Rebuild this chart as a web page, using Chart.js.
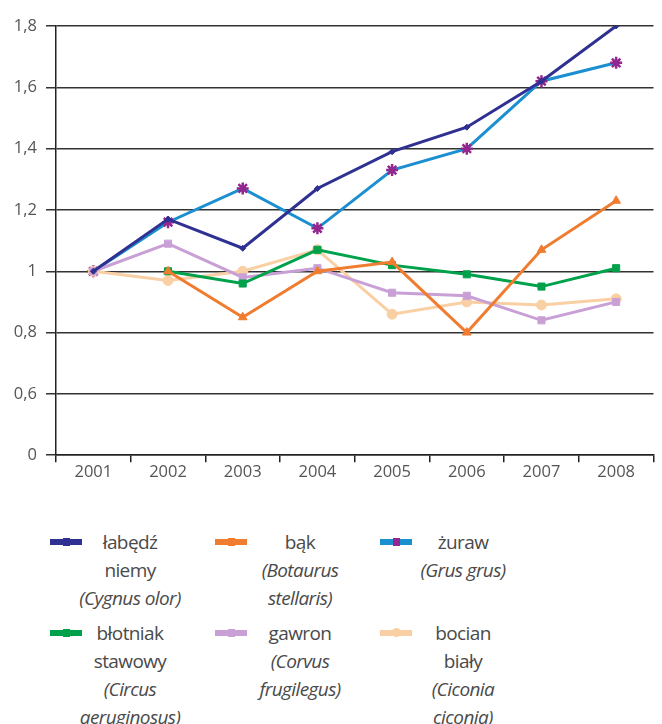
<!DOCTYPE html>
<html>
<head>
<meta charset="utf-8">
<script src="https://cdn.jsdelivr.net/npm/chart.js@4"></script>
<style>
  body { margin: 0; background: #fff; font-family: 'Open Sans', sans-serif; }
  #wrap { width: 662px; height: 482px; position: relative; }
  #legend { position: absolute; top: 528px; left: 0; width: 662px; }
  .item { position: absolute; width: 165px; }
  .sample { position: absolute; left: 0; top: 11px; width: 32px; height: 6px; }
  .mark { position: absolute; left: 13px; top: -1px; width: 7px; height: 8px; }
  .txt { position: absolute; width: 130px; text-align: center; color: #4a4a4a;
         font-size: 19px; line-height: 28px; letter-spacing: -0.6px; white-space: nowrap; }
  .txt i { font-style: italic; }
</style>
</head>
<body>
<div id="wrap"><canvas id="myChart"></canvas></div>
<div id="legend"></div>
<script>
// chart data
const years = ['2001', '2002', '2003', '2004', '2005', '2006', '2007', '2008'];
const labedz = [1.0, 1.17, 1.075, 1.27, 1.39, 1.47, 1.62, 1.80];
const bak = [null, 1.0, 0.85, 1.0, 1.03, 0.80, 1.07, 1.23];
const zuraw = [1.0, 1.16, 1.27, 1.14, 1.33, 1.40, 1.62, 1.68];
const blotniak = [null, 1.0, 0.96, 1.07, 1.02, 0.99, 0.95, 1.01];
const gawron = [1.0, 1.09, 0.98, 1.01, 0.93, 0.92, 0.84, 0.90];
const bocian = [1.0, 0.97, 1.0, 1.07, 0.86, 0.90, 0.89, 0.91];
// broken axis: lowest tick is labelled 0
const yTicks = { 0.4: '0', 0.6: '0,6', 0.8: '0,8', 1: '1', 1.2: '1,2', 1.4: '1,4', 1.6: '1,6', 1.8: '1,8' };

const series = [
    { label: 'łabędź niemy', data: labedz, color: '#2e3192', pt: 'rectRot', r: 3 },
    { label: 'bąk', data: bak, color: '#f07c30', pt: 'triangle', r: 5 },
    { label: 'błotniak stawowy', data: blotniak, color: '#00a14b', pt: 'rect', r: 5 },
    { label: 'gawron', data: gawron, color: '#c9a0d6', pt: 'rect', r: 5 },
    { label: 'bocian biały', data: bocian, color: '#f9cfa4', pt: 'circle', r: 5 },
    { label: 'żuraw', data: zuraw, color: '#1b8fd0', pt: 'star', r: 6, ptColor: '#92278f' }
];

const ctx = document.getElementById('myChart').getContext('2d');
const birdChart = new Chart(ctx, {
    type: 'line',
    data: {
        labels: years,
        datasets: series.map(s => ({
            label: s.label,
            data: s.data,
            borderColor: s.color,
            backgroundColor: s.ptColor || s.color,
            pointBorderColor: s.ptColor || s.color,
            pointBackgroundColor: s.ptColor || s.color,
            pointStyle: s.pt,
            pointRadius: s.r,
            pointBorderWidth: s.pt === 'star' ? 2.5 : 1,
            borderWidth: 3,
            fill: false,
            tension: 0
        }))
    },
    options: {
        responsive: true,
        maintainAspectRatio: false,
        animation: false,
        layout: { padding: { top: 26, right: 0, left: 0, bottom: 0 } },
        plugins: {
            legend: { display: false },
            tooltip: { enabled: false }
        },
        scales: {
            x: {
                offset: true,
                grid: { drawOnChartArea: false, color: '#222', lineWidth: 1.5, tickLength: 7, offset: true },
                border: { color: '#222', width: 1.5 },
                ticks: { color: '#555', font: { family: 'Open Sans', size: 16.5 }, padding: 0 }
            },
            y: {
                min: 0.4,
                max: 1.8,
                afterFit: (scale) => { scale.width = 56; },
                grid: { color: '#333', lineWidth: 1.5, tickLength: 10 },
                border: { color: '#222', width: 1.5 },
                ticks: {
                    stepSize: 0.2,
                    color: '#555',
                    font: { family: 'Open Sans', size: 16.5 },
                    padding: 9,
                    callback: function (value) {
                        const k = Math.round(value * 10) / 10;
                        return yTicks[k] !== undefined ? yTicks[k] : '';
                    }
                }
            }
        }
    }
});

// legend below the chart
const legendItems = [
    { s: 0, x: 50, y: 0, tx: 15, lines: ['łabędź', 'niemy', '<i>(Cygnus olor)</i>'] },
    { s: 1, x: 215, y: 0, tx: 20, lines: ['bąk', '<i>(Botaurus</i>', '<i>stellaris)</i>'] },
    { s: 5, x: 380, y: 0, tx: 18, lines: ['żuraw', '<i>(Grus grus)</i>'] },
    { s: 2, x: 50, y: 91, tx: 15, lines: ['błotniak', 'stawowy', '<i>(Circus</i>', '<i>aeruginosus)</i>'] },
    { s: 3, x: 215, y: 91, tx: 20, lines: ['gawron', '<i>(Corvus</i>', '<i>frugilegus)</i>'] },
    { s: 4, x: 380, y: 91, tx: 18, lines: ['bocian', 'biały', '<i>(Ciconia</i>', '<i>ciconia)</i>'] }
];
const legend = document.getElementById('legend');
legendItems.forEach(it => {
    const s = series[it.s];
    const el = document.createElement('div');
    el.className = 'item';
    el.style.left = it.x + 'px';
    el.style.top = it.y + 'px';
    const mark = s.pt === 'circle' ? 'border-radius:50%;width:9px;height:9px;top:-2px;left:12px;' : '';
    el.innerHTML = '<div class="sample" style="background:' + s.color + '">' +
        '<div class="mark" style="background:' + (s.ptColor || s.color) + ';' + mark + '"></div></div>' +
        '<div class="txt" style="top:0;left:' + it.tx + 'px">' + it.lines.join('<br>') + '</div>';
    legend.appendChild(el);
});
</script>
</body>
</html>
